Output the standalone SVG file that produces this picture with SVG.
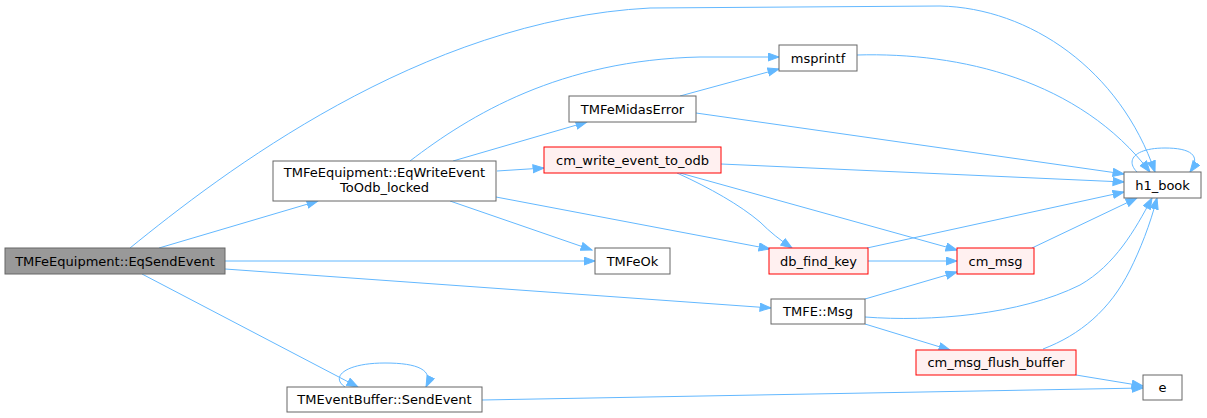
<svg xmlns="http://www.w3.org/2000/svg" width="1207" height="418" viewBox="0 0 1207 418">
<style>
.n rect{fill:#fff;stroke:#666;stroke-width:1}
.n.r rect{fill:#fff0f0;stroke:#f00}
.n.m rect{fill:#999;stroke:#666}
text{font-family:"DejaVu Sans",sans-serif;font-size:13px;fill:#000;text-anchor:middle}
.e path{fill:none;stroke:#63b8ff;stroke-width:1;marker-end:url(#a)}
</style>
<defs>
<marker id="a" markerUnits="userSpaceOnUse" markerWidth="13" markerHeight="10" refX="11.5" refY="4.5" orient="auto">
<path d="M0.5,0.5 L11.5,4.5 L0.5,8.5 z" fill="#63b8ff" stroke="#63b8ff"/>
</marker>
</defs>
<rect width="1207" height="418" fill="#fff"/>
<g id="edges" class="e">
<path d="M130,248 C220,175 420,20 650,8 L940,6 C1030,8 1120,70 1155,172"/>
<path d="M159,248 L318,201"/>
<path d="M225,261 L595,261"/>
<path d="M225,269 L771,308"/>
<path d="M142,274 L358,387"/>
<path d="M345,387 C330,377 345,363 385,363 C418,363 434,370 426,387"/>
<path d="M482,400 L1143,388"/>
<path d="M410,161 C470,115 560,60 700,57 L779,57"/>
<path d="M453,161 L587,122"/>
<path d="M497,171 L544,168"/>
<path d="M450,201 L592,250"/>
<path d="M496,197 L770,249"/>
<path d="M680,96 L779,69"/>
<path d="M696,113 L1124,174"/>
<path d="M721,164 L1124,182"/>
<path d="M677,173 C710,188 740,205 760,222 C770,232 780,240 792,248"/>
<path d="M680,173 L957,250"/>
<path d="M857,55 C960,52 1080,80 1150,172"/>
<path d="M1137,172 C1125,160 1135,148 1165,148 C1190,148 1202,155 1190,172"/>
<path d="M867,248 L1124,192"/>
<path d="M868,261 L957,261"/>
<path d="M1032,248 L1137,198"/>
<path d="M865,299 L957,272"/>
<path d="M865,317 C930,322 1020,315 1080,285 C1115,265 1135,230 1152,198"/>
<path d="M865,324 L950,350"/>
<path d="M1043,349 C1080,335 1110,310 1130,270 C1140,250 1150,225 1157,198"/>
<path d="M1076,375 L1143,386"/>
</g>
<g id="EqSendEvent" class="n m"><rect x="5" y="248" width="220" height="26"/><text x="115" y="265.5">TMFeEquipment::EqSendEvent</text></g>
<g id="EqWriteEventToOdb_locked" class="n"><rect x="273" y="161" width="223" height="40"/><text x="384.5" y="177">TMFeEquipment::EqWriteEvent</text><text x="384.5" y="192">ToOdb_locked</text></g>
<g id="SendEvent" class="n"><rect x="287" y="387" width="195" height="25"/><text x="384.5" y="404">TMEventBuffer::SendEvent</text></g>
<g id="msprintf" class="n"><rect x="779" y="45" width="78" height="26"/><text x="818" y="62.5">msprintf</text></g>
<g id="TMFeMidasError" class="n"><rect x="569" y="96" width="127" height="26"/><text x="632.5" y="113.5">TMFeMidasError</text></g>
<g id="cm_write_event_to_odb" class="n r"><rect x="544" y="147" width="177" height="26"/><text x="632.5" y="164.5">cm_write_event_to_odb</text></g>
<g id="TMFeOk" class="n"><rect x="595" y="248" width="75" height="26"/><text x="632.5" y="265.5">TMFeOk</text></g>
<g id="db_find_key" class="n r"><rect x="769" y="248" width="99" height="26"/><text x="818.5" y="265.5">db_find_key</text></g>
<g id="cm_msg" class="n r"><rect x="957" y="248" width="77" height="26"/><text x="995.5" y="265.5">cm_msg</text></g>
<g id="TMFE_Msg" class="n"><rect x="771" y="299" width="94" height="25"/><text x="818" y="316">TMFE::Msg</text></g>
<g id="cm_msg_flush_buffer" class="n r"><rect x="916" y="350" width="160" height="25"/><text x="996" y="367">cm_msg_flush_buffer</text></g>
<g id="h1_book" class="n"><rect x="1124" y="172" width="77" height="26"/><text x="1162.5" y="189.5">h1_book</text></g>
<g id="e" class="n"><rect x="1143" y="375" width="39" height="25"/><text x="1162.5" y="392">e</text></g>
</svg>
